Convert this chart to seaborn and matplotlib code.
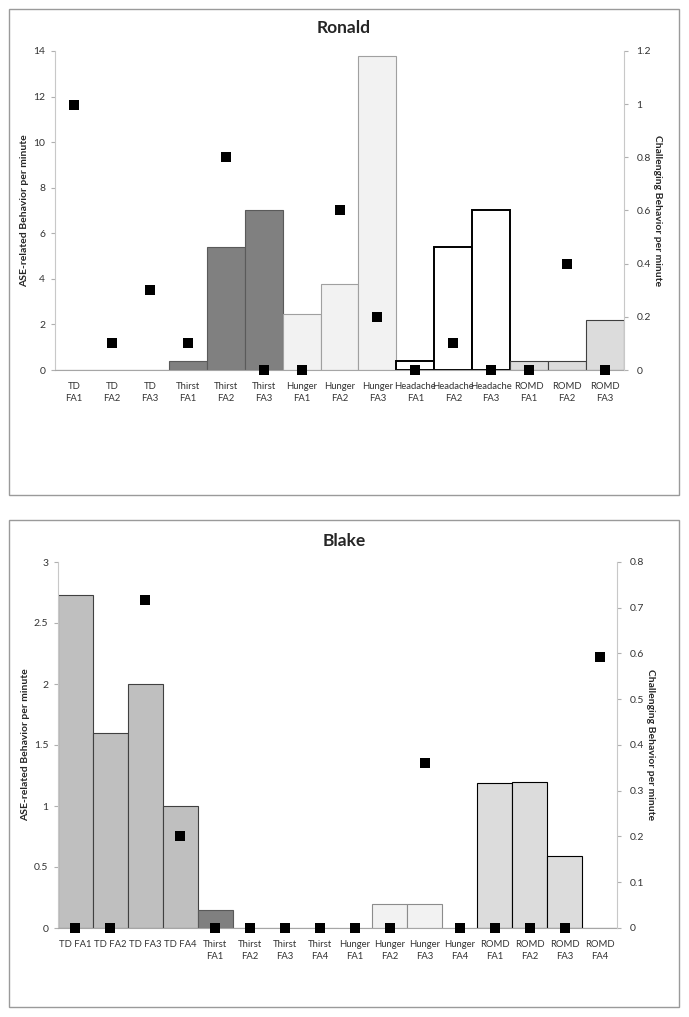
import pandas as pd
import matplotlib
matplotlib.use('Agg')
import matplotlib.pyplot as plt
import seaborn as sns
from matplotlib.patches import Rectangle
from matplotlib.ticker import FuncFormatter, MultipleLocator

# Ronald
ronald_labels = ['TD\nFA1', 'TD\nFA2', 'TD\nFA3', 'Thirst\nFA1', 'Thirst\nFA2', 'Thirst\nFA3',
                 'Hunger\nFA1', 'Hunger\nFA2', 'Hunger\nFA3', 'Headache\nFA1', 'Headache\nFA2',
                 'Headache\nFA3', 'ROMD\nFA1', 'ROMD\nFA2', 'ROMD\nFA3']
ronald_groups = ['TD'] * 3 + ['Thirst'] * 3 + ['Hunger'] * 3 + ['Headache'] * 3 + ['ROMD'] * 3
ronald_ase = [0, 0, 0, 0.39, 5.4, 7.0, 2.44, 3.78, 13.8, 0.39, 5.42, 7.0, 0.38, 0.41, 2.19]
ronald_cb = [0.995, 0.1, 0.3, 0.1, 0.8, 0, 0, 0.6, 0.2, 0, 0.1, 0, 0, 0.4, 0]

# Blake
blake_labels = ['TD FA1', 'TD FA2', 'TD FA3', 'TD FA4', 'Thirst\nFA1', 'Thirst\nFA2',
                'Thirst\nFA3', 'Thirst\nFA4', 'Hunger\nFA1', 'Hunger\nFA2', 'Hunger\nFA3',
                'Hunger\nFA4', 'ROMD\nFA1', 'ROMD\nFA2', 'ROMD\nFA3', 'ROMD\nFA4']
blake_groups = ['TD'] * 4 + ['Thirst'] * 4 + ['Hunger'] * 4 + ['ROMD'] * 4
blake_ase = [2.73, 1.6, 2.0, 1.0, 0.145, 0, 0, 0, 0, 0.2, 0.2, 0, 1.19, 1.2, 0.59, 0]
blake_cb = [0, 0, 0.717, 0.2, 0, 0, 0, 0, 0, 0, 0.36, 0, 0, 0, 0, 0.592]

fills = {'TD': '#bfbfbf', 'Thirst': '#808080', 'Hunger': '#f2f2f2',
         'Headache': '#ffffff', 'ROMD': '#dcdcdc'}
edges_ronald = {'TD': '#595959', 'Thirst': '#5a5a5a', 'Hunger': '#a0a0a0',
                'Headache': '#000000', 'ROMD': '#404040'}
edges_blake = {'TD': '#404040', 'Thirst': '#595959', 'Hunger': '#8c8c8c',
               'Headache': '#000000', 'ROMD': '#000000'}

sns.set_style('white')
plt.rcParams['font.family'] = ['Lato', 'DejaVu Sans']

fig = plt.figure(figsize=(6.89, 10.17), dpi=100)
W, H = 689, 1017


def px_axes(x0, y0, x1, y1):
    return fig.add_axes([x0 / W, 1 - y1 / H, (x1 - x0) / W, (y1 - y0) / H])


def panel(box, axbox, title, title_y, labels, groups, ase, cb, edges,
          ymax1, step1, ymax2, step2):
    # outer frame
    bx0, by0, bx1, by1 = box
    fig.patches.append(Rectangle((bx0 / W, 1 - by1 / H), (bx1 - bx0) / W, (by1 - by0) / H,
                                 transform=fig.transFigure, fill=False,
                                 edgecolor='#9a9a9a', linewidth=1.0))
    fig.text((bx0 + bx1) / 2 / W, 1 - title_y / H, title, ha='center', va='center',
             fontsize=12.5, fontweight='bold')

    df = pd.DataFrame({'label': labels, 'group': groups, 'ase': ase, 'cb': cb})
    order = list(dict.fromkeys(groups))
    ax = px_axes(*axbox)
    sns.barplot(data=df, x='label', y='ase', hue='group', hue_order=order,
                palette=fills, dodge=False, width=1, saturation=1, legend=False, ax=ax)
    for grp, cont in zip(order, ax.containers):
        for p in cont:
            p.set_edgecolor(edges[grp])
            p.set_linewidth(1.4 if grp == 'Headache' else 0.8)

    ax2 = ax.twinx()
    sns.stripplot(data=df, x='label', y='cb', jitter=False, marker='s', color='black',
                  size=6.5, linewidth=0, ax=ax2, clip_on=False, zorder=5)

    n = len(labels)
    ax.set_xlim(-0.5, n - 0.5)
    ax2.set_xlim(-0.5, n - 0.5)
    ax.set_ylim(0, ymax1)
    ax2.set_ylim(0, ymax2)
    ax.yaxis.set_major_locator(MultipleLocator(step1))
    ax2.yaxis.set_major_locator(MultipleLocator(step2))
    fmt = FuncFormatter(lambda v, pos: f'{v:g}')
    ax.yaxis.set_major_formatter(fmt)
    ax2.yaxis.set_major_formatter(fmt)

    for a in (ax, ax2):
        a.set_facecolor('none')
        a.spines['top'].set_visible(False)
        a.set_xlabel('')
    ax.spines['right'].set_visible(False)
    ax.spines['left'].set_color('#c8c8c8')
    ax.spines['bottom'].set_color('#a6a6a6')
    ax2.spines['left'].set_visible(False)
    ax2.spines['bottom'].set_visible(False)
    ax2.spines['right'].set_color('#c8c8c8')

    ax.tick_params(axis='y', left=True, length=3, color='#b0b0b0', labelsize=7.5,
                   labelcolor='#333333', pad=4)
    ax2.tick_params(axis='y', right=True, length=3, color='#b0b0b0', labelsize=7.5,
                    labelcolor='#333333', pad=6)
    ax.tick_params(axis='x', bottom=False, labelsize=6.8, labelcolor='#333333', pad=5)
    ax2.tick_params(axis='x', bottom=False, labelbottom=False)
    ax.set_xticks(range(n))
    ax.set_xticklabels(labels, linespacing=1.4)

    ax.set_ylabel('ASE-related Behavior per minute', fontsize=7.5, fontweight='bold',
                  labelpad=3)
    ax2.set_ylabel('Challenging Behavior per minute', fontsize=7.5, fontweight='bold',
                   rotation=270, labelpad=8)
    return ax, ax2


panel((9, 9, 679, 495), (55, 51, 624, 370), 'Ronald', 28,
      ronald_labels, ronald_groups, ronald_ase, ronald_cb, edges_ronald,
      14, 2, 1.2, 0.2)
panel((9, 520, 679, 1007), (58, 562, 617, 928), 'Blake', 541,
      blake_labels, blake_groups, blake_ase, blake_cb, edges_blake,
      3, 0.5, 0.8, 0.1)

fig.savefig('out.png', dpi=100)
